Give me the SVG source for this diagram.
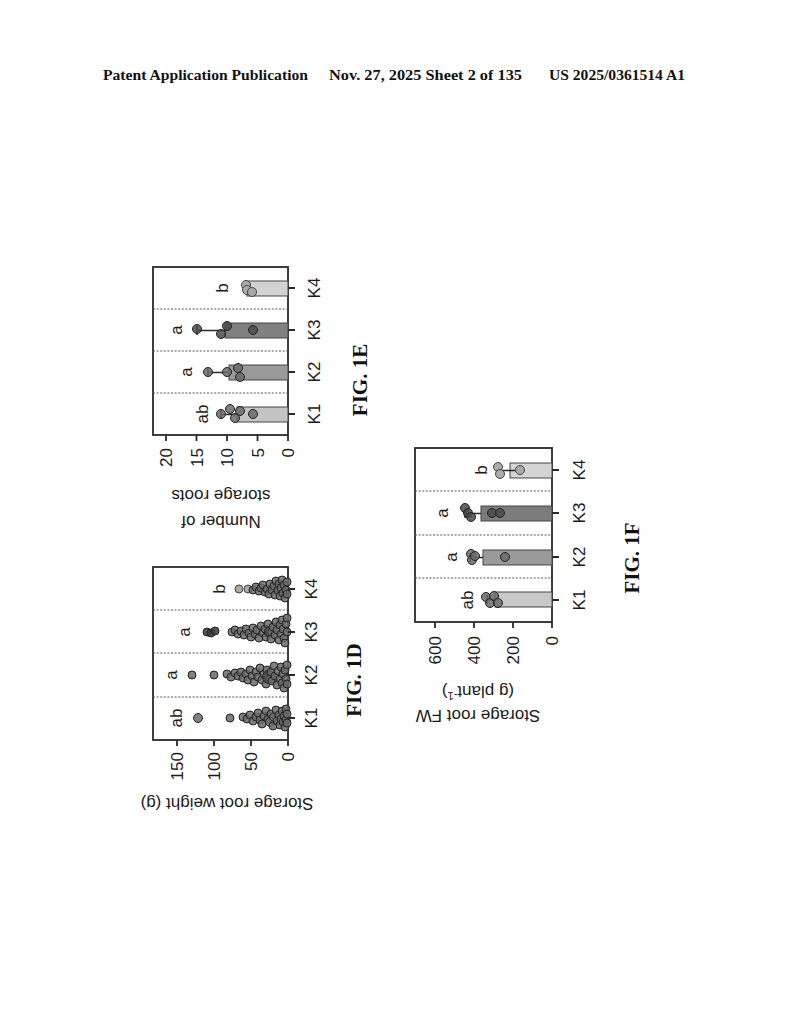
<svg xmlns="http://www.w3.org/2000/svg" width="794" height="1024" viewBox="0 0 794 1024">
<style>
.hdr{font-family:"Liberation Serif","Times New Roman",serif;font-weight:bold;font-size:15.5px;fill:#111}
.frame{fill:none;stroke:#2a2a2a;stroke-width:1.8}
.sep{stroke:#555;stroke-width:1.1;stroke-dasharray:2 1.6}
.tick{stroke:#2a2a2a;stroke-width:1.8}
.lbl{font-family:"Liberation Sans",Arial,sans-serif;font-size:17px;fill:#1a1a1a}
.sig{font-family:"Liberation Sans",Arial,sans-serif;font-size:17px;fill:#1a1a1a;text-anchor:middle}
.fig{font-family:"Liberation Serif","Times New Roman",serif;font-weight:bold;font-size:21px;fill:#111;text-anchor:middle}
.dot{fill:#6a6a6a;stroke:#222;stroke-width:1;fill-opacity:0.85}
.dotl{fill:#aaaaaa;stroke:#444;stroke-width:1}
.bar{stroke:#444;stroke-width:1}
.err{stroke:#2a2a2a;stroke-width:1.6;fill:none}
</style>
<rect width="794" height="1024" fill="#fff"/>
<g id="header">
<text class="hdr" x="103" y="80" textLength="205" lengthAdjust="spacingAndGlyphs">Patent Application Publication</text>
<text class="hdr" x="329" y="80" textLength="193" lengthAdjust="spacingAndGlyphs">Nov. 27, 2025  Sheet 2 of 135</text>
<text class="hdr" x="549" y="80" textLength="136" lengthAdjust="spacingAndGlyphs">US 2025/0361514 A1</text>
</g>

<!-- FIG 1E -->
<g id="fig1e">
<rect class="frame" x="153" y="267" width="135" height="168"/>
<line class="sep" x1="153" y1="309" x2="288" y2="309"/>
<line class="sep" x1="153" y1="351" x2="288" y2="351"/>
<line class="sep" x1="153" y1="393" x2="288" y2="393"/>
<g id="e-bars">
<rect class="bar" x="237" y="407" width="51" height="15" fill="#c4c4c4"/>
<rect class="bar" x="229" y="365" width="59" height="15" fill="#9a9a9a"/>
<rect class="bar" x="225" y="323" width="63" height="15" fill="#808080"/>
<rect class="bar" x="247" y="281" width="41" height="15" fill="#d2d2d2"/>
</g>
<g id="e-err">
<path class="err" d="M221 414.5H237M221 410V419M208 372.5H229M208 368V377M197 330.5H225M197 326V335M244 288.5H247M244 284V293"/>
</g>
<g id="e-points">
<circle class="dot" cx="221" cy="414" r="4.5"/>
<circle class="dot" cx="230" cy="409" r="4.5"/>
<circle class="dot" cx="235" cy="418" r="4.5"/>
<circle class="dot" cx="240" cy="411" r="4.5"/>
<circle class="dot" cx="253" cy="414" r="4.5"/>
<circle class="dot" cx="208" cy="372" r="4.5"/>
<circle class="dot" cx="227" cy="372" r="4.5"/>
<circle class="dot" cx="238" cy="368" r="4.5"/>
<circle class="dot" cx="240" cy="377" r="4.5"/>
<circle class="dot" cx="197" cy="329" r="4.5" style="fill:#4a4a4a"/>
<circle class="dot" cx="221" cy="334" r="4.5" style="fill:#4a4a4a"/>
<circle class="dot" cx="227" cy="326" r="4.5" style="fill:#4a4a4a"/>
<circle class="dot" cx="253" cy="330" r="4.5" style="fill:#4a4a4a"/>
<circle class="dotl" cx="246" cy="285" r="4.5"/>
<circle class="dotl" cx="247" cy="290" r="4.5"/>
<circle class="dotl" cx="252" cy="292" r="4.5"/>
</g>
<g id="e-axes">
<path class="tick" d="M166 435V441M196.5 435V441M227 435V441M257.5 435V441M288 435V441M288 288H295M288 330H295M288 372H295M288 414H295"/>
<text class="lbl" text-anchor="end" transform="translate(172,448) rotate(-90)">20</text>
<text class="lbl" text-anchor="end" transform="translate(202.5,448) rotate(-90)">15</text>
<text class="lbl" text-anchor="end" transform="translate(233,448) rotate(-90)">10</text>
<text class="lbl" text-anchor="end" transform="translate(263.5,448) rotate(-90)">5</text>
<text class="lbl" text-anchor="end" transform="translate(294,448) rotate(-90)">0</text>
<text class="lbl" text-anchor="middle" transform="translate(320,414) rotate(-90)">K1</text>
<text class="lbl" text-anchor="middle" transform="translate(320,372) rotate(-90)">K2</text>
<text class="lbl" text-anchor="middle" transform="translate(320,330) rotate(-90)">K3</text>
<text class="lbl" text-anchor="middle" transform="translate(320,288) rotate(-90)">K4</text>
<text class="lbl" text-anchor="middle" transform="translate(221,516) rotate(180)">Number of</text>
<text class="lbl" text-anchor="middle" transform="translate(221,490) rotate(180)">storage roots</text>
</g>
<g id="e-sig">
<text class="sig" transform="translate(208,414) rotate(-90)">ab</text>
<text class="sig" transform="translate(192,372) rotate(-90)">a</text>
<text class="sig" transform="translate(182,330) rotate(-90)">a</text>
<text class="sig" transform="translate(228,288) rotate(-90)">b</text>
</g>
<text class="fig" transform="translate(367,380) rotate(-90)">FIG. 1E</text>
</g>

<!-- FIG 1D -->
<g id="fig1d">
<rect class="frame" x="153" y="567" width="135" height="173"/>
<line class="sep" x1="153" y1="610" x2="288" y2="610"/>
<line class="sep" x1="153" y1="653" x2="288" y2="653"/>
<line class="sep" x1="153" y1="697" x2="288" y2="697"/>
<g id="d-points">
<circle class="dot" cx="198" cy="718" r="4.5"/>
<circle class="dot" cx="230" cy="718" r="4"/>
<circle class="dot" cx="243" cy="717" r="4"/>
<circle class="dot" cx="247" cy="719" r="4"/>
<circle class="dot" cx="250" cy="715" r="4"/>
<circle class="dot" cx="253" cy="721" r="4"/>
<circle class="dot" cx="256" cy="717" r="4"/>
<circle class="dot" cx="258" cy="713" r="4"/>
<circle class="dot" cx="260" cy="720" r="4"/>
<circle class="dot" cx="262" cy="724" r="4"/>
<circle class="dot" cx="264" cy="716" r="4"/>
<circle class="dot" cx="266" cy="711" r="4"/>
<circle class="dot" cx="268" cy="719" r="4"/>
<circle class="dot" cx="270" cy="722" r="4.5"/>
<circle class="dot" cx="271" cy="714" r="4"/>
<circle class="dot" cx="273" cy="726" r="4"/>
<circle class="dot" cx="274" cy="717" r="4.5"/>
<circle class="dot" cx="276" cy="710" r="4"/>
<circle class="dot" cx="277" cy="721" r="4"/>
<circle class="dot" cx="279" cy="715" r="4"/>
<circle class="dot" cx="280" cy="725" r="4"/>
<circle class="dot" cx="281" cy="719" r="4"/>
<circle class="dot" cx="282" cy="711" r="4"/>
<circle class="dot" cx="283" cy="722" r="4"/>
<circle class="dot" cx="284" cy="716" r="4"/>
<circle class="dot" cx="285" cy="727" r="4"/>
<circle class="dot" cx="286" cy="709" r="4"/>
<circle class="dot" cx="286" cy="720" r="4"/>
<circle class="dot" cx="287" cy="714" r="4"/>
<circle class="dot" cx="287" cy="723" r="4"/>

<circle class="dot" cx="192" cy="675" r="4"/>
<circle class="dot" cx="214" cy="675" r="4"/>
<circle class="dot" cx="227" cy="674" r="4"/>
<circle class="dot" cx="231" cy="677" r="4"/>
<circle class="dot" cx="235" cy="673" r="4"/>
<circle class="dot" cx="238" cy="676" r="4"/>
<circle class="dot" cx="241" cy="672" r="4"/>
<circle class="dot" cx="243" cy="678" r="4"/>
<circle class="dot" cx="246" cy="674" r="4"/>
<circle class="dot" cx="248" cy="680" r="4"/>
<circle class="dot" cx="250" cy="670" r="4"/>
<circle class="dot" cx="252" cy="676" r="4"/>
<circle class="dot" cx="254" cy="682" r="4"/>
<circle class="dot" cx="256" cy="672" r="4"/>
<circle class="dot" cx="258" cy="677" r="4"/>
<circle class="dot" cx="260" cy="668" r="4"/>
<circle class="dot" cx="262" cy="680" r="4"/>
<circle class="dot" cx="264" cy="674" r="4"/>
<circle class="dot" cx="266" cy="684" r="4"/>
<circle class="dot" cx="267" cy="670" r="4"/>
<circle class="dot" cx="269" cy="677" r="6.5" style="fill:#4a4a4a"/>
<circle class="dot" cx="271" cy="672" r="4"/>
<circle class="dot" cx="272" cy="681" r="4"/>
<circle class="dot" cx="274" cy="666" r="4"/>
<circle class="dot" cx="275" cy="676" r="4"/>
<circle class="dot" cx="277" cy="685" r="4"/>
<circle class="dot" cx="278" cy="671" r="4"/>
<circle class="dot" cx="280" cy="679" r="4"/>
<circle class="dot" cx="281" cy="667" r="4"/>
<circle class="dot" cx="282" cy="683" r="4"/>
<circle class="dot" cx="283" cy="674" r="4"/>
<circle class="dot" cx="284" cy="688" r="4"/>
<circle class="dot" cx="285" cy="670" r="4"/>
<circle class="dot" cx="286" cy="679" r="4"/>
<circle class="dot" cx="287" cy="665" r="4"/>
<circle class="dot" cx="287" cy="684" r="4"/>

<circle class="dot" cx="207" cy="632" r="4" style="fill:#3a3a3a"/>
<circle class="dot" cx="211" cy="633" r="4" style="fill:#3a3a3a"/>
<circle class="dot" cx="215" cy="631" r="4" style="fill:#3a3a3a"/>
<circle class="dot" cx="232" cy="632" r="4"/>
<circle class="dot" cx="235" cy="630" r="4"/>
<circle class="dot" cx="238" cy="634" r="4"/>
<circle class="dot" cx="241" cy="631" r="4"/>
<circle class="dot" cx="244" cy="635" r="4"/>
<circle class="dot" cx="246" cy="629" r="4"/>
<circle class="dot" cx="249" cy="633" r="4"/>
<circle class="dot" cx="251" cy="637" r="4"/>
<circle class="dot" cx="253" cy="628" r="4"/>
<circle class="dot" cx="255" cy="634" r="4"/>
<circle class="dot" cx="257" cy="630" r="4"/>
<circle class="dot" cx="259" cy="638" r="4"/>
<circle class="dot" cx="261" cy="626" r="4"/>
<circle class="dot" cx="263" cy="633" r="4"/>
<circle class="dot" cx="265" cy="629" r="4"/>
<circle class="dot" cx="266" cy="637" r="4"/>
<circle class="dot" cx="268" cy="624" r="4"/>
<circle class="dot" cx="270" cy="632" r="5.5" style="fill:#4a4a4a"/>
<circle class="dot" cx="271" cy="639" r="4"/>
<circle class="dot" cx="273" cy="627" r="4"/>
<circle class="dot" cx="275" cy="635" r="4"/>
<circle class="dot" cx="276" cy="622" r="4"/>
<circle class="dot" cx="277" cy="630" r="4"/>
<circle class="dot" cx="279" cy="640" r="4"/>
<circle class="dot" cx="280" cy="625" r="4"/>
<circle class="dot" cx="281" cy="634" r="4"/>
<circle class="dot" cx="282" cy="620" r="4"/>
<circle class="dot" cx="283" cy="629" r="4"/>
<circle class="dot" cx="284" cy="638" r="4"/>
<circle class="dot" cx="285" cy="643" r="4"/>
<circle class="dot" cx="286" cy="624" r="4"/>
<circle class="dot" cx="287" cy="632" r="4"/>
<circle class="dot" cx="287" cy="618" r="4"/>

<circle class="dotl" cx="239" cy="589" r="4"/>
<circle class="dotl" cx="248" cy="589" r="4"/>
<circle class="dot" cx="253" cy="590" r="4"/>
<circle class="dot" cx="256" cy="587" r="4"/>
<circle class="dot" cx="259" cy="591" r="4"/>
<circle class="dot" cx="261" cy="588" r="4"/>
<circle class="dot" cx="263" cy="585" r="4"/>
<circle class="dot" cx="265" cy="592" r="4"/>
<circle class="dot" cx="267" cy="589" r="4"/>
<circle class="dot" cx="269" cy="594" r="4"/>
<circle class="dot" cx="270" cy="584" r="4"/>
<circle class="dot" cx="272" cy="590" r="4"/>
<circle class="dot" cx="274" cy="586" r="4"/>
<circle class="dot" cx="275" cy="595" r="4"/>
<circle class="dot" cx="276" cy="581" r="4"/>
<circle class="dot" cx="278" cy="590" r="4"/>
<circle class="dot" cx="279" cy="584" r="4"/>
<circle class="dot" cx="280" cy="596" r="4"/>
<circle class="dot" cx="281" cy="588" r="4"/>
<circle class="dot" cx="282" cy="580" r="4"/>
<circle class="dot" cx="283" cy="593" r="4"/>
<circle class="dot" cx="284" cy="585" r="4"/>
<circle class="dot" cx="285" cy="598" r="4"/>
<circle class="dot" cx="286" cy="590" r="4"/>
<circle class="dot" cx="287" cy="582" r="4"/>
<circle class="dot" cx="287" cy="594" r="4"/>
</g>
<g id="d-axes">
<path class="tick" d="M177 740V746M214 740V746M251 740V746M288 740V746M288 589H295M288 632H295M288 675H295M288 718H295"/>
<text class="lbl" text-anchor="end" transform="translate(183,752) rotate(-90)">150</text>
<text class="lbl" text-anchor="end" transform="translate(220,752) rotate(-90)">100</text>
<text class="lbl" text-anchor="end" transform="translate(257,752) rotate(-90)">50</text>
<text class="lbl" text-anchor="end" transform="translate(294,752) rotate(-90)">0</text>
<text class="lbl" text-anchor="middle" transform="translate(317,718) rotate(-90)">K1</text>
<text class="lbl" text-anchor="middle" transform="translate(317,675) rotate(-90)">K2</text>
<text class="lbl" text-anchor="middle" transform="translate(317,632) rotate(-90)">K3</text>
<text class="lbl" text-anchor="middle" transform="translate(317,589) rotate(-90)">K4</text>
<text class="lbl" text-anchor="middle" transform="translate(227,798) rotate(180)">Storage root weight (g)</text>
</g>
<g id="d-sig">
<text class="sig" transform="translate(182,718) rotate(-90)">ab</text>
<text class="sig" transform="translate(177,675) rotate(-90)">a</text>
<text class="sig" transform="translate(190,632) rotate(-90)">a</text>
<text class="sig" transform="translate(225,589) rotate(-90)">b</text>
</g>
<text class="fig" transform="translate(361,680) rotate(-90)">FIG. 1D</text>
</g>

<!-- FIG 1F -->
<g id="fig1f">
<rect class="frame" x="415" y="448" width="137" height="174"/>
<line class="sep" x1="415" y1="491" x2="552" y2="491"/>
<line class="sep" x1="415" y1="535" x2="552" y2="535"/>
<line class="sep" x1="415" y1="578" x2="552" y2="578"/>
<g id="f-bars">
<rect class="bar" x="495" y="592" width="57" height="15" fill="#c8c8c8"/>
<rect class="bar" x="483" y="550" width="69" height="15" fill="#9a9a9a"/>
<rect class="bar" x="481" y="506" width="71" height="15" fill="#7c7c7c"/>
<rect class="bar" x="510" y="463" width="42" height="15" fill="#d4d4d4"/>
</g>
<g id="f-err">
<path class="err" d="M487 599.5H495M487 595V604M470 557.5H483M470 553V562M465 513.5H481M465 509V518M498 470.5H520M498 466V475"/>
</g>
<g id="f-points">
<circle class="dot" cx="486" cy="597" r="4.5"/>
<circle class="dot" cx="490" cy="603" r="4.5"/>
<circle class="dot" cx="494" cy="596" r="4.5"/>
<circle class="dot" cx="498" cy="603" r="4.5"/>
<circle class="dot" cx="471" cy="554" r="4.5"/>
<circle class="dot" cx="472" cy="560" r="4.5"/>
<circle class="dot" cx="475" cy="556" r="4.5"/>
<circle class="dot" cx="505" cy="557" r="4.5"/>
<circle class="dot" cx="465" cy="508" r="4.5" style="fill:#4a4a4a"/>
<circle class="dot" cx="468" cy="513" r="4.5" style="fill:#4a4a4a"/>
<circle class="dot" cx="471" cy="517" r="4.5" style="fill:#4a4a4a"/>
<circle class="dot" cx="492" cy="513" r="4.5" style="fill:#4a4a4a"/>
<circle class="dot" cx="500" cy="513" r="4.5" style="fill:#4a4a4a"/>
<circle class="dotl" cx="498" cy="467" r="4.5"/>
<circle class="dotl" cx="500" cy="474" r="4.5"/>
<circle class="dotl" cx="520" cy="470" r="4.5"/>
</g>
<g id="f-axes">
<path class="tick" d="M435 622V628M474 622V628M513 622V628M552 622V628M552 470H559M552 513H559M552 557H559M552 600H559"/>
<text class="lbl" text-anchor="end" transform="translate(441,636) rotate(-90)">600</text>
<text class="lbl" text-anchor="end" transform="translate(480,636) rotate(-90)">400</text>
<text class="lbl" text-anchor="end" transform="translate(519,636) rotate(-90)">200</text>
<text class="lbl" text-anchor="end" transform="translate(558,636) rotate(-90)">0</text>
<text class="lbl" text-anchor="middle" transform="translate(585,600) rotate(-90)">K1</text>
<text class="lbl" text-anchor="middle" transform="translate(585,557) rotate(-90)">K2</text>
<text class="lbl" text-anchor="middle" transform="translate(585,513) rotate(-90)">K3</text>
<text class="lbl" text-anchor="middle" transform="translate(585,470) rotate(-90)">K4</text>
<text class="lbl" text-anchor="middle" transform="translate(478,686) rotate(180)">(g plant<tspan font-size="11" baseline-shift="super">-1</tspan>)</text>
<text class="lbl" text-anchor="middle" transform="translate(478,710) rotate(180)">Storage root FW</text>
</g>
<g id="f-sig">
<text class="sig" transform="translate(473,600) rotate(-90)">ab</text>
<text class="sig" transform="translate(457,557) rotate(-90)">a</text>
<text class="sig" transform="translate(448,513) rotate(-90)">a</text>
<text class="sig" transform="translate(487,470) rotate(-90)">b</text>
</g>
<text class="fig" transform="translate(639,558) rotate(-90)">FIG. 1F</text>
</g>
</svg>
